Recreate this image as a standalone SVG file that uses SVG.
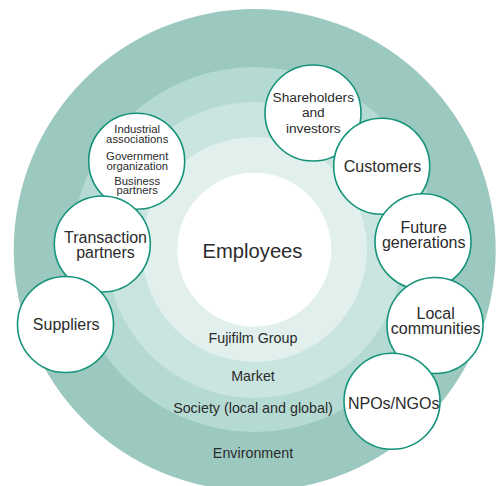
<svg xmlns="http://www.w3.org/2000/svg" width="496" height="486" viewBox="0 0 496 486">
<style>
.node circle{fill:#fff;stroke:#14937a;stroke-width:1.6}
text{font-family:"Liberation Sans",Arial,sans-serif;fill:#2b2b2b;text-anchor:middle}
.n{font-size:16px}
.r{font-size:14.3px}
.s{font-size:11.3px}
</style>
<rect width="496" height="486" fill="#fff"/>
<g id="rings">
<circle cx="254.7" cy="250" r="241" fill="#9bc9c0"/>
<circle cx="254.5" cy="249.5" r="182.5" fill="#b5dad3"/>
<circle cx="254.5" cy="250" r="148" fill="#cae4df"/>
<circle cx="254.5" cy="249.5" r="112.5" fill="#e1f0ed"/>
<circle cx="254.3" cy="249.7" r="77" fill="#fff"/>
</g>
<g id="ring-labels">
<text class="r" x="253" y="342.5">Fujifilm Group</text>
<text class="r" x="253" y="380.7">Market</text>
<text class="r" x="253" y="412.7">Society (local and global)</text>
<text class="r" x="253" y="457.7">Environment</text>
</g>
<g id="employees"><text x="252.5" y="257.5" style="font-size:20.2px">Employees</text></g>
<g id="connectors"></g>
<g id="industrial" class="node"><circle cx="136.7" cy="161.3" r="48"/>
<text class="s" x="137.2" y="133.3">Industrial</text>
<text class="s" x="137.2" y="143.3">associations</text>
<text class="s" x="137.2" y="160">Government</text>
<text class="s" x="137.2" y="169.5">organization</text>
<text class="s" x="137.2" y="185">Business</text>
<text class="s" x="137.2" y="194.3">partners</text>
</g>
<g id="transaction" class="node"><circle cx="102.3" cy="244" r="48"/>
<text class="n" x="105.5" y="243.3">Transaction</text>
<text class="n" x="105.5" y="258.3">partners</text>
</g>
<g id="suppliers" class="node"><circle cx="65.5" cy="324.5" r="48"/>
<text class="n" x="66.2" y="330">Suppliers</text>
</g>
<g id="shareholders" class="node"><circle cx="313" cy="113" r="48"/>
<text x="313.3" y="101.7" style="font-size:13.7px">Shareholders</text>
<text x="313.3" y="117.3" style="font-size:13.7px">and</text>
<text x="313.3" y="133.3" style="font-size:13.7px">investors</text>
</g>
<g id="customers" class="node"><circle cx="381.7" cy="166.3" r="48"/>
<text class="n" x="382.5" y="172">Customers</text>
</g>
<g id="future" class="node"><circle cx="423" cy="241.7" r="48"/>
<text class="n" x="423.7" y="233.3">Future</text>
<text class="n" x="423.7" y="248.3">generations</text>
</g>
<g id="local" class="node"><circle cx="435" cy="325.5" r="48"/>
<text class="n" x="435.7" y="319.3">Local</text>
<text class="n" x="435.7" y="334.3">communities</text>
</g>
<g id="npo" class="node"><circle cx="392" cy="401.3" r="48"/>
<text class="n" x="393.7" y="409.3">NPOs/NGOs</text>
</g>
</svg>
